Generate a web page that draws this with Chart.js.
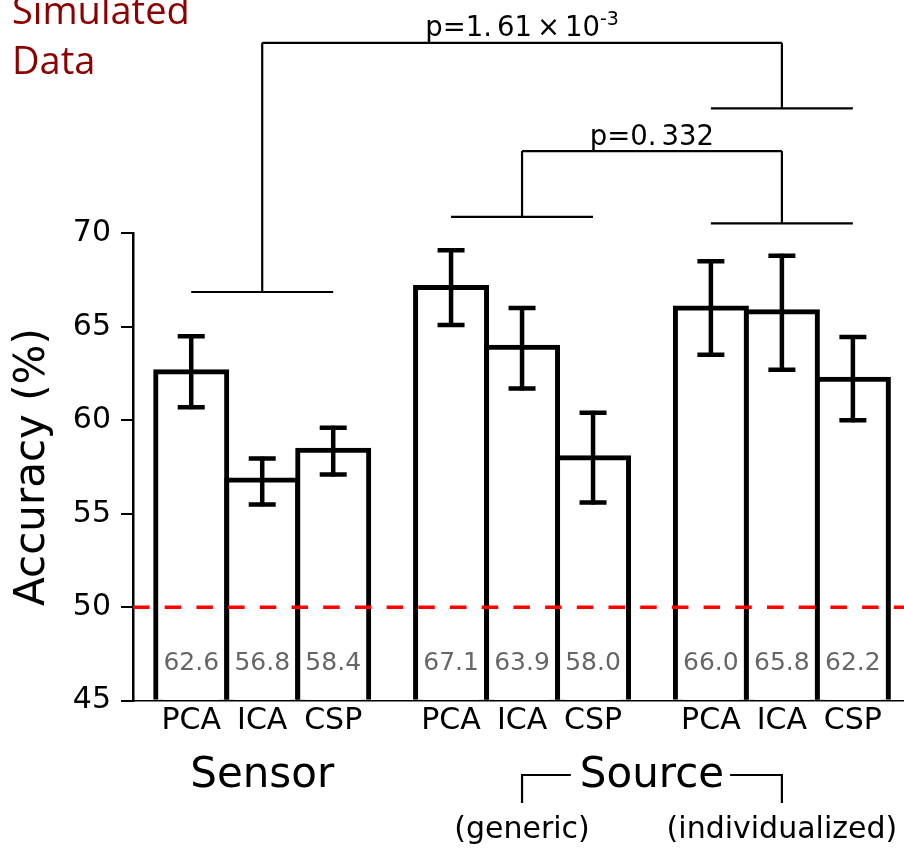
<!DOCTYPE html>
<html><head><meta charset="utf-8">
<script src="https://cdn.jsdelivr.net/npm/chart.js@4.4.1/dist/chart.umd.min.js"></script>
<style>html,body{margin:0;padding:0;background:#fff;} #wrap{width:904px;height:852px;position:relative;}</style>
</head><body><div id="wrap"><canvas id="c"></canvas></div>
<script>
// ---- data ----
const categories = ['PCA','ICA','CSP','PCA','ICA','CSP','PCA','ICA','CSP'];
const xPositions = [0, 1, 2, 3.66, 4.66, 5.66, 7.32, 8.32, 9.32];
const accuracy   = [62.6, 56.8, 58.4, 67.1, 63.9, 58.0, 66.0, 65.8, 62.2];
const errLow     = [60.7, 55.5, 57.1, 65.1, 61.7, 55.6, 63.5, 62.7, 60.0];
const errHigh    = [64.5, 57.95, 59.6, 69.1, 66.0, 60.4, 68.5, 68.8, 64.45];
const valueLabels = ['62.6','56.8','58.4','67.1','63.9','58.0','66.0','65.8','62.2'];
const yTicks = [45, 50, 55, 60, 65, 70];
const chanceLevel = 50;
const groupNames = ['Sensor', 'Source'];
const subGroupNames = ['(generic)', '(individualized)'];
// significance brackets (data units)
const groupLineLevels = [66.86, 70.88, 70.53, 76.68]; // sensor, generic, individualized(low), individualized(high)
const connectorLevels = [80.19, 74.4];
const pMain = ['p=1.', '61', '×', '10'];
const pSup = '-3';
const pSecond = ['p=0.', '332'];

const X_MIN = -0.82, X_MAX = 10.04;
const FONT = '"DejaVu Sans", sans-serif';

const annotate = {
  id: 'annotate',
  afterDatasetsDraw(chart) {
    const {ctx, scales: {x, y}} = chart;
    const X = v => x.getPixelForValue(v), Y = v => y.getPixelForValue(v);
    ctx.save();
    // error bars
    ctx.strokeStyle = '#000'; ctx.lineWidth = 4.5; ctx.lineCap = 'butt';
    xPositions.forEach((xv, i) => {
      const px = X(xv), lo = Y(errLow[i]), hi = Y(errHigh[i]);
      ctx.beginPath(); ctx.moveTo(px, lo + 2); ctx.lineTo(px, hi - 2); ctx.stroke();
      ctx.beginPath(); ctx.moveTo(px - 13.5, lo); ctx.lineTo(px + 13.5, lo);
      ctx.moveTo(px - 13.5, hi); ctx.lineTo(px + 13.5, hi); ctx.stroke();
    });
    // value labels
    ctx.fillStyle = '#666'; ctx.font = '25px ' + FONT; ctx.textAlign = 'center'; ctx.textBaseline = 'middle';
    xPositions.forEach((xv, i) => ctx.fillText(valueLabels[i], X(xv), Y(47)));
    // brackets
    ctx.lineWidth = 2.2; ctx.strokeStyle = '#000';
    const seg = (x1, y1, x2, y2) => { ctx.beginPath(); ctx.moveTo(X(x1), Y(y1)); ctx.lineTo(X(x2), Y(y2)); ctx.stroke(); };
    const gs = [[0, 2, groupLineLevels[0]], [3.66, 5.66, groupLineLevels[1]], [7.32, 9.32, groupLineLevels[2]], [7.32, 9.32, groupLineLevels[3]]];
    gs.forEach(g => seg(g[0], g[2], g[1], g[2]));
    seg(1, groupLineLevels[0], 1, connectorLevels[0]);
    seg(1, connectorLevels[0], 8.32, connectorLevels[0]);
    seg(8.32, connectorLevels[0], 8.32, groupLineLevels[3]);
    seg(4.66, groupLineLevels[1], 4.66, connectorLevels[1]);
    seg(4.66, connectorLevels[1], 8.32, connectorLevels[1]);
    seg(8.32, connectorLevels[1], 8.32, groupLineLevels[2]);
    // p labels
    ctx.fillStyle = '#000'; ctx.textAlign = 'left'; ctx.textBaseline = 'alphabetic';
    const drawParts = (parts, gaps, cx, baseY, sup) => {
      ctx.font = '27.5px ' + FONT;
      let widths = parts.map(p => ctx.measureText(p).width);
      let total = widths.reduce((a, b) => a + b, 0) + gaps.reduce((a, b) => a + b, 0);
      let supW = 0;
      if (sup) { ctx.font = '19px ' + FONT; supW = ctx.measureText(sup).width; ctx.font = '27.5px ' + FONT; }
      let xx = cx - (total + supW) / 2;
      parts.forEach((p, i) => { ctx.fillText(p, xx, baseY); xx += widths[i] + (gaps[i] || 0); });
      if (sup) { ctx.font = '19px ' + FONT; ctx.fillText(sup, xx, baseY - 11); }
    };
    drawParts(pMain, [5, 5, 5], (X(1) + X(8.32)) / 2, Y(connectorLevels[0]) - 6.5, pSup);
    drawParts(pSecond, [5], (X(4.66) + X(8.32)) / 2, Y(connectorLevels[1]) - 6.5, null);
    ctx.restore();
  },
  afterDraw(chart) {
    const {ctx, scales: {x}} = chart;
    const X = v => x.getPixelForValue(v);
    ctx.save();
    ctx.fillStyle = '#000'; ctx.textAlign = 'center'; ctx.textBaseline = 'alphabetic';
    ctx.font = '42px ' + FONT;
    ctx.fillText(groupNames[0], X(xPositions[1]), 787);
    const srcX = (X(xPositions[4]) + X(xPositions[7])) / 2;
    ctx.fillText(groupNames[1], srcX, 787);
    const w = ctx.measureText(groupNames[1]).width;
    ctx.strokeStyle = '#000'; ctx.lineWidth = 2.2;
    ctx.beginPath();
    ctx.moveTo(X(xPositions[4]), 803); ctx.lineTo(X(xPositions[4]), 775); ctx.lineTo(srcX - w / 2 - 9, 775);
    ctx.moveTo(srcX + w / 2 + 6, 775); ctx.lineTo(X(xPositions[7]), 775); ctx.lineTo(X(xPositions[7]), 803);
    ctx.stroke();
    ctx.font = '30px ' + FONT;
    ctx.fillText(subGroupNames[0], X(xPositions[4]), 838);
    ctx.fillText(subGroupNames[1], X(xPositions[7]), 838);
    // corner title
    ctx.fillStyle = '#8b0000'; ctx.textAlign = 'left';
    ctx.font = '38px "Open Sans", sans-serif';
    ctx.fillText('Simulated', 12, 24);
    ctx.fillText('Data', 12, 74);
    ctx.restore();
  }
};

Chart.defaults.font.family = FONT;
Chart.defaults.color = '#000';

new Chart(document.getElementById('c'), {
  type: 'bar',
  data: {
    datasets: [
      { type: 'line', data: [{x: X_MIN, y: chanceLevel}, {x: X_MAX, y: chanceLevel}],
        borderColor: '#ff0000', borderWidth: 3.5, borderDash: [16.5, 15.2], pointRadius: 0, tension: 0, order: 0, clip: 0 },
      { type: 'bar', data: xPositions.map((xv, i) => ({x: xv, y: accuracy[i]})),
        backgroundColor: '#ffffff', borderColor: '#000000', borderWidth: 5, borderSkipped: 'start',
        barThickness: 71, inflateAmount: 2.5, base: 45, order: 1, clip: 0 }
    ]
  },
  options: {
    responsive: true, maintainAspectRatio: false, animation: false,
    layout: {padding: {top: 233.3, right: 0, bottom: 0, left: 0}},
    plugins: {legend: {display: false}, tooltip: {enabled: false}},
    scales: {
      x: {
        type: 'linear', min: X_MIN, max: X_MAX, bounds: 'data', offset: false,
        grid: {display: false, drawTicks: false, offset: false, tickLength: 0},
        border: {display: true, color: '#000', width: 1.5},
        ticks: {autoSkip: false, maxRotation: 0, minRotation: 0, font: {size: 30}, color: '#000', padding: 3,
                callback: (v, i) => categories[i]},
        afterBuildTicks: s => { s.ticks = xPositions.map(v => ({value: v})); },
        afterFit: s => { s.height = 852 - 700.7; }
      },
      y: {
        min: 45, max: 70,
        grid: {display: true, drawOnChartArea: false, drawTicks: true, tickLength: 12, color: '#000', lineWidth: 2},
        border: {display: true, color: '#000', width: 2.5},
        ticks: {font: {size: 30}, color: '#000', padding: 10},
        afterBuildTicks: s => { s.ticks = yTicks.map(v => ({value: v})); },
        afterFit: s => { s.width = 133; },
        title: {display: true, text: 'Accuracy (%)', font: {size: 42}, color: '#000', padding: {top: 8, bottom: 0}}
      }
    }
  },
  plugins: [annotate]
});
</script></body></html>
